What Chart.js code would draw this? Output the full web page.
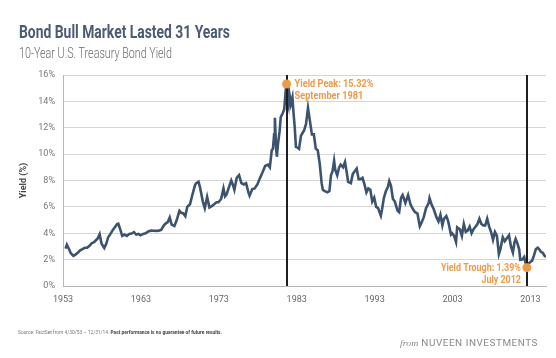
<!DOCTYPE html>
<html>
<head>
<meta charset="utf-8">
<script src="https://cdn.jsdelivr.net/npm/chart.js@4.4.1/dist/chart.umd.min.js"></script>
<style>
  html, body { margin: 0; padding: 0; background: #fff; }
  #wrap { position: relative; width: 556px; height: 358px; overflow: hidden; }
  canvas { position: absolute; left: 0; top: 0; }
  .t { position: absolute; white-space: nowrap; transform-origin: 0 0; font-family: 'Roboto', 'Liberation Sans', sans-serif; }
  #title { left: 19px; top: 20px; font-size: 19px; font-weight: bold; color: #4a5b72; }
  #sub { left: 19px; top: 45px; font-size: 14px; color: #6a6a6a; font-weight: 300; }
  #src { left: 18px; top: 328px; font-size: 6px; color: #777; }
  #src b { color: #444; }
  #from { left: 400px; top: 338px; font-size: 9px; color: #8a8a8a; letter-spacing: 0.5px; }
  #from i { font-family: 'Liberation Serif', 'DejaVu Serif', serif; letter-spacing: 0; }
</style>
</head>
<body>
<div id="wrap">
  <canvas id="c" width="556" height="358"></canvas>
  <div class="t" id="title" data-w="211">Bond Bull Market Lasted 31 Years</div>
  <div class="t" id="sub" data-w="153">10-Year U.S. Treasury Bond Yield</div>
  <div class="t" id="src" data-w="204">Source: FactSet from 4/30/53 – 12/31/14. <b>Past performance is no guarantee of future results.</b></div>
  <div class="t" id="from" data-w="138"><i>from</i> NUVEEN INVESTMENTS</div>
</div>
<script>
// ---- data (year as decimal, 10-year Treasury yield in %) ----
const years = [
1953.33,1953.5,1953.75,1954.0,1954.33,1954.6,1954.9,1955.2,1955.5,1955.8,
1956.1,1956.4,1956.7,1956.95,1957.2,1957.45,1957.7,1957.95,1958.3,1958.55,
1958.8,1959.1,1959.4,1959.7,1959.95,1960.1,1960.35,1960.6,1960.9,1961.2,
1961.5,1961.8,1962.1,1962.4,1962.7,1962.95,1963.3,1963.6,1963.95,1964.3,
1964.7,1964.95,1965.3,1965.6,1965.95,1966.2,1966.45,1966.7,1966.95,1967.3,
1967.6,1967.95,1968.2,1968.45,1968.7,1968.95,1969.3,1969.6,1969.95,1970.1,
1970.4,1970.6,1970.95,1971.2,1971.5,1971.8,1972.1,1972.4,1972.7,1972.95,
1973.3,1973.6,1973.8,1974.0,1974.3,1974.6,1974.85,1975.0,1975.3,1975.6,
1975.9,1976.2,1976.5,1976.8,1976.95,1977.3,1977.6,1977.95,1978.3,1978.6,
1978.95,1979.3,1979.55,1979.8,1979.95,1980.1,1980.2,1980.35,1980.45,1980.6,
1980.8,1980.95,1981.2,1981.4,1981.6,1981.7,1981.85,1981.95,1982.05,1982.25,
1982.45,1982.6,1982.75,1982.9,1983.1,1983.3,1983.55,1983.75,1983.95,1984.2,
1984.45,1984.6,1984.8,1984.95,1985.2,1985.45,1985.7,1985.95,1986.2,1986.35,
1986.6,1986.95,1987.2,1987.4,1987.6,1987.8,1987.95,1988.2,1988.45,1988.65,
1988.95,1989.2,1989.45,1989.6,1989.95,1990.2,1990.45,1990.7,1990.95,1991.2,
1991.45,1991.7,1991.95,1992.2,1992.45,1992.7,1992.95,1993.2,1993.45,1993.8,
1993.95,1994.2,1994.45,1994.7,1994.88,1995.1,1995.35,1995.6,1995.95,1996.15,
1996.4,1996.6,1996.95,1997.3,1997.6,1997.95,1998.2,1998.5,1998.8,1998.95,
1999.3,1999.6,1999.95,2000.05,2000.3,2000.6,2000.95,2001.2,2001.45,2001.7,
2001.9,2002.2,2002.45,2002.8,2002.95,2003.2,2003.45,2003.6,2003.95,2004.2,
2004.45,2004.7,2004.95,2005.2,2005.45,2005.7,2005.95,2006.2,2006.45,2006.7,
2006.95,2007.2,2007.45,2007.7,2007.95,2008.2,2008.45,2008.7,2008.95,2009.15,
2009.45,2009.7,2009.95,2010.25,2010.5,2010.75,2010.95,2011.1,2011.35,2011.55,
2011.7,2011.95,2012.2,2012.4,2012.55,2012.75,2012.95,2013.2,2013.45,2013.7,
2013.95,2014.1,2014.35,2014.6,2014.8,2014.99
];
const yields = [
2.83,3.13,2.82,2.48,2.29,2.38,2.52,2.70,2.80,2.90,
2.90,3.05,3.25,3.30,3.45,3.60,3.93,3.20,2.88,3.20,
3.70,3.95,4.25,4.50,4.69,4.72,4.30,3.80,3.90,3.80,
3.95,3.98,4.08,3.90,3.95,3.85,3.95,4.00,4.14,4.20,
4.19,4.18,4.20,4.25,4.60,4.75,4.85,5.20,4.65,4.55,
5.00,5.70,5.55,5.50,5.30,6.00,6.20,6.90,7.65,7.80,
7.90,7.45,6.40,5.90,6.75,5.95,6.05,6.20,6.35,6.35,
6.60,7.40,6.80,6.95,7.50,8.00,7.60,7.30,8.20,8.40,
7.80,7.70,7.80,7.10,6.85,7.35,7.40,7.70,8.20,8.60,
9.10,9.20,9.00,10.30,10.40,11.50,12.75,10.50,9.80,10.80,
11.70,12.80,13.10,13.40,14.90,15.32,14.00,13.70,14.60,13.80,
14.30,13.06,12.00,10.55,10.50,10.40,11.40,11.60,11.80,12.30,
13.50,12.90,12.10,11.50,11.50,10.40,10.30,9.30,7.80,7.30,
7.20,7.10,7.20,8.40,8.70,9.50,8.80,8.40,9.00,9.20,
9.00,9.40,8.50,7.90,7.80,8.50,8.70,8.90,8.10,8.10,
8.20,7.70,7.10,7.40,7.30,6.40,6.70,6.00,5.90,5.33,
5.80,6.70,7.20,7.50,7.96,7.60,6.60,6.40,5.70,5.60,
6.70,6.90,6.30,6.90,6.20,5.80,5.60,5.50,4.53,4.70,
5.20,5.90,6.30,6.66,6.20,5.80,5.20,4.90,5.40,4.60,
5.10,5.30,4.90,3.90,4.00,3.80,3.33,4.45,4.30,3.80,
4.70,4.10,4.20,4.50,4.00,4.30,4.50,4.70,5.10,4.70,
4.60,4.60,5.10,4.50,4.10,3.50,4.10,3.80,2.42,2.80,
3.70,3.40,3.60,3.85,3.00,2.54,3.30,3.58,3.20,2.80,
1.98,2.00,2.20,1.70,1.39,1.70,1.80,1.90,2.30,2.80,
2.90,2.80,2.60,2.50,2.30,2.20
];
const tickYears = [1953, 1963, 1973, 1983, 1993, 2003, 2013];
const yTicks = [0, 2, 4, 6, 8, 10, 12, 14, 16];
const eventYears = [1981.7, 2012.55];
const eventYields = [15.32, 1.39];
const eventLines1 = ['Yield Peak: 15.32%', 'Yield Trough: 1.39%'];
const eventLines2 = ['September 1981', 'July 2012'];

// fit HTML texts horizontally (condensed look)
document.querySelectorAll('.t').forEach(el => {
  const w = el.getBoundingClientRect().width;
  const target = +el.dataset.w;
  el.style.transform = 'scaleX(' + (target / w) + ')';
});

const FONT = "'Roboto', 'Liberation Sans', sans-serif";
const ORANGE = '#ef9a45';
const LINE = '#3c5370';

function condensedText(ctx, text, x, y, sx, align) {
  const w = ctx.measureText(text).width * sx;
  const left = align === 'right' ? x - w : x;
  ctx.save();
  ctx.translate(left, y);
  ctx.scale(sx, 1);
  ctx.textAlign = 'left';
  ctx.fillText(text, 0, 0);
  ctx.restore();
}

const eventPlugin = {
  id: 'events',
  afterDatasetsDraw(chart) {
    const {ctx, chartArea, scales} = chart;
    ctx.save();
    ctx.strokeStyle = '#1e1e1e';
    ctx.lineWidth = 2;
    eventYears.forEach(y => {
      const x = Math.round(scales.x.getPixelForValue(y));
      ctx.beginPath();
      ctx.moveTo(x, chartArea.top);
      ctx.lineTo(x, chartArea.bottom);
      ctx.stroke();
    });
    ctx.fillStyle = ORANGE;
    eventYears.forEach((y, i) => {
      const x = scales.x.getPixelForValue(y);
      const py = scales.y.getPixelForValue(eventYields[i]);
      ctx.beginPath();
      ctx.arc(x, py, 4.5, 0, Math.PI * 2);
      ctx.fill();
    });
    ctx.font = 'bold 11px ' + FONT;
    ctx.textBaseline = 'middle';
    let x = scales.x.getPixelForValue(eventYears[0]);
    let py = scales.y.getPixelForValue(eventYields[0]);
    let sx = 79 / ctx.measureText(eventLines1[0]).width;
    condensedText(ctx, eventLines1[0], x + 8, py, sx, 'left');
    condensedText(ctx, eventLines2[0], x + 8, py + 12, sx, 'left');
    x = scales.x.getPixelForValue(eventYears[1]);
    py = scales.y.getPixelForValue(eventYields[1]);
    sx = 80 / ctx.measureText(eventLines1[1]).width;
    condensedText(ctx, eventLines1[1], x - 6, py + 1, sx, 'right');
    condensedText(ctx, eventLines2[1], x - 6, py + 13, sx, 'right');
    ctx.restore();
  }
};

new Chart(document.getElementById('c'), {
  type: 'line',
  data: {
    datasets: [{
      data: years.map((y, i) => ({x: y, y: yields[i]})),
      borderColor: LINE,
      borderWidth: 2.6,
      pointRadius: 0,
      tension: 0,
      fill: false
    }]
  },
  options: {
    responsive: false,
    animation: false,
    devicePixelRatio: 1,
    layout: { padding: { left: 0, right: 10, top: 75, bottom: 0 } },
    plugins: { legend: { display: false }, tooltip: { enabled: false } },
    scales: {
      x: {
        type: 'linear',
        min: 1953,
        max: 2015,
        afterBuildTicks(s) { s.ticks = tickYears.map(v => ({value: v})); },
        afterFit(s) { s.height = 72; },
        grid: { display: false, drawTicks: false },
        border: { display: true, color: '#b8b8b8', width: 1 },
        ticks: {
          padding: 8,
          maxRotation: 0,
          autoSkip: false,
          color: '#666',
          font: { family: FONT, size: 9 },
          callback: v => String(v)
        }
      },
      y: {
        min: 0,
        max: 16,
        afterBuildTicks(s) { s.ticks = yTicks.map(v => ({value: v})); },
        afterFit(s) { s.width = 63; },
        grid: { color: '#d6d6d6', lineWidth: 1, drawTicks: false },
        border: { display: true, color: '#b8b8b8', width: 1 },
        title: {
          display: true,
          text: 'Yield (%)',
          color: '#444',
          font: { family: FONT, size: 9, weight: 'bold' },
          padding: { top: 18, bottom: 0 }
        },
        ticks: {
          padding: 8,
          color: '#777',
          font: { family: FONT, size: 9 },
          callback: v => v + '%'
        }
      }
    }
  },
  plugins: [eventPlugin]
});
</script>
</body>
</html>
